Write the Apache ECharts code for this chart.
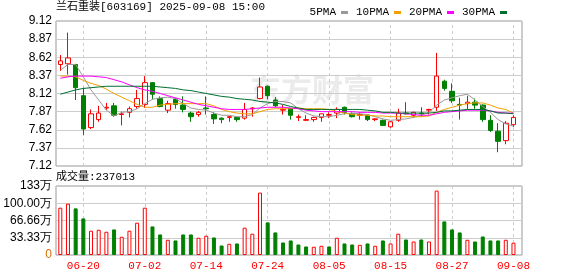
<!DOCTYPE html>
<html><head><meta charset="utf-8">
<script src="https://cdn.jsdelivr.net/npm/echarts@6/dist/echarts.min.js"></script>
<style>html,body{margin:0;padding:0;background:#fff}#c{width:578px;height:276px}</style>
</head><body><div id="c"></div>
<script>
const dates = ['06-17','06-18','06-19','06-20','06-23','06-24','06-25','06-26','06-27','06-30',
'07-01','07-02','07-03','07-04','07-07','07-08','07-09','07-10','07-11','07-14',
'07-15','07-16','07-17','07-18','07-21','07-22','07-23','07-24','07-25','07-28',
'07-29','07-30','07-31','08-01','08-04','08-05','08-06','08-07','08-08','08-11',
'08-12','08-13','08-14','08-15','08-18','08-19','08-20','08-21','08-22','08-25',
'08-26','08-27','08-28','08-29','09-01','09-02','09-03','09-04','09-05','09-08'];
const opens = [8.52,8.53,8.52,8.09,7.65,7.76,7.92,7.95,7.83,7.86,
7.94,7.97,8.27,8.05,7.89,8.04,7.96,7.85,7.83,7.92,
7.83,7.78,7.79,7.79,7.78,7.91,8.05,8.22,8.03,7.89,
7.91,7.79,7.75,7.76,7.79,7.82,7.85,7.93,7.84,7.82,
7.82,7.76,7.75,7.66,7.75,7.85,7.82,7.85,7.89,7.93,
8.29,8.15,7.97,7.98,8.00,7.96,7.75,7.60,7.47,7.69];
const closes = [8.57,8.61,8.20,7.63,7.84,7.85,7.93,7.82,7.84,7.91,
8.05,8.27,8.11,7.94,7.98,7.97,7.90,7.80,7.86,7.91,
7.77,7.76,7.80,7.76,7.90,7.92,8.21,8.09,7.95,7.90,
7.82,7.80,7.76,7.79,7.84,7.83,7.90,7.86,7.80,7.83,
7.76,7.77,7.68,7.73,7.85,7.84,7.86,7.84,7.90,8.36,
8.19,8.02,7.96,8.00,7.96,7.76,7.61,7.46,7.71,7.79];
const lows = [8.43,8.38,8.03,7.55,7.63,7.73,7.89,7.80,7.68,7.79,
7.91,7.92,8.04,7.93,7.85,7.91,7.86,7.73,7.80,7.83,
7.70,7.71,7.73,7.73,7.76,7.80,8.04,8.04,7.93,7.83,
7.76,7.74,7.74,7.73,7.73,7.78,7.78,7.83,7.79,7.76,
7.74,7.74,7.67,7.65,7.73,7.83,7.79,7.80,7.83,7.88,
8.16,7.99,7.76,7.90,7.91,7.73,7.59,7.31,7.42,7.66];
const highs = [8.65,8.96,8.53,8.20,7.90,7.95,7.99,7.99,7.87,7.94,
8.17,8.36,8.27,8.08,8.02,8.06,8.08,7.87,7.88,8.08,
7.86,7.79,7.81,7.80,7.99,7.93,8.34,8.23,8.07,7.96,
7.92,7.83,7.82,7.80,7.84,7.86,7.93,7.94,7.86,7.86,
7.83,7.78,7.76,7.74,7.91,8.00,7.87,7.93,7.91,8.68,
8.31,8.26,8.06,8.09,8.05,7.97,7.82,7.71,7.74,7.82];
const volumes = [914000,992000,901000,707000,469000,488000,449000,494000,352000,469000,
624000,914000,552000,397000,294000,281000,397000,397000,333000,372000,
339000,184000,217000,223000,527000,411000,1205000,630000,436000,242000,
281000,203000,165000,159000,178000,165000,333000,223000,203000,197000,
223000,178000,281000,223000,411000,300000,261000,300000,261000,1244000,
649000,494000,436000,294000,261000,358000,281000,281000,294000,237013];
const ma5 = [8.44,8.52,8.52,8.35,8.17,8.03,7.89,7.81,7.86,7.87,
7.91,7.98,8.04,8.06,8.07,8.05,7.98,7.92,7.90,7.89,
7.85,7.82,7.82,7.80,7.80,7.83,7.92,7.98,8.01,8.01,
7.99,7.91,7.85,7.81,7.80,7.80,7.82,7.84,7.85,7.84,
7.83,7.80,7.77,7.75,7.76,7.77,7.79,7.82,7.86,7.96,
8.03,8.06,8.09,8.11,8.03,7.94,7.86,7.76,7.70,7.67];
const ma10 = [8.36,8.36,8.35,8.30,8.26,8.23,8.18,8.12,8.07,8.02,
7.97,7.93,7.93,7.96,7.97,7.98,7.98,7.98,7.98,7.98,
7.95,7.90,7.87,7.85,7.84,7.84,7.87,7.90,7.91,7.91,
7.91,7.92,7.91,7.91,7.91,7.90,7.87,7.85,7.83,7.82,
7.82,7.81,7.81,7.80,7.80,7.80,7.80,7.80,7.81,7.86,
7.90,7.93,7.96,7.98,7.99,7.99,7.96,7.92,7.90,7.85];
const ma20 = [8.33,8.35,8.36,8.36,8.36,8.35,8.34,8.31,8.28,8.24,
8.20,8.17,8.15,8.12,8.09,8.06,8.03,8.00,7.97,7.95,
7.93,7.91,7.90,7.90,7.90,7.91,7.92,7.93,7.93,7.93,
7.92,7.91,7.89,7.88,7.87,7.87,7.87,7.87,7.87,7.86,
7.86,7.86,7.85,7.85,7.85,7.84,7.83,7.82,7.82,7.84,
7.86,7.87,7.88,7.89,7.89,7.89,7.88,7.86,7.85,7.85];
const ma30 = [8.11,8.14,8.17,8.19,8.20,8.21,8.22,8.22,8.22,8.22,
8.22,8.22,8.22,8.21,8.20,8.19,8.17,8.16,8.14,8.12,
8.10,8.08,8.07,8.05,8.04,8.03,8.01,8.00,7.99,7.97,
7.94,7.92,7.90,7.90,7.90,7.90,7.90,7.90,7.90,7.90,
7.89,7.88,7.86,7.86,7.85,7.85,7.85,7.85,7.85,7.86,
7.88,7.88,7.89,7.90,7.90,7.90,7.88,7.85,7.85,7.84];
const xTickLabels = ['06-20','07-02','07-14','07-24','08-05','08-15','08-27','09-08'];
const volTickLabels = ['0','33.33万','66.66万','100.00万','133万'];
const maNames = ['5PMA','10PMA','20PMA','30PMA'];
const stockTitle = '兰石重装[603169] 2025-09-08 15:00';

const RED = '#ff0000', GREEN = '#008000';
const maColors = ['#999999','#f2a100','#ff00ff','#006f30'];
const xTickIdx = xTickLabels.map(l => dates.indexOf(l));
const XMIN = -0.56, XMAX = 60.11;
const mono = '"Liberation Mono","Noto Sans CJK SC",monospace';
const sans = '"Liberation Sans",Arial,sans-serif';

const candleData = dates.map((d, i) => [i, opens[i], closes[i], lows[i], highs[i]]);
const volData = volumes.map((v, i) => {
  const up = i === 0 ? closes[i] >= opens[i] : closes[i] >= closes[i - 1];
  return {
    value: [i, v],
    itemStyle: up ? {color: '#ffffff', borderColor: RED, borderWidth: 1}
                  : {color: GREEN, borderColor: GREEN, borderWidth: 1}
  };
});
const vLines = xTickIdx.map(i => ({xAxis: i}));
const vLineStyle = {type: [3, 3], color: '#cccccc', width: 1};

const chart = echarts.init(document.getElementById('c'), null, {renderer: 'canvas'});
const maxVol = 1333300;
chart.setOption({
  animation: false,
  backgroundColor: '#fff',
  graphic: [
    {type: 'text', left: 250, top: 74, z: -10, silent: true,
     style: {text: '东方财富', font: 'bold 31px "Noto Sans CJK SC"', fill: '#ebebeb'}},
    {type: 'text', left: 56, top: 2, style: {text: stockTitle, font: '11px ' + mono, fill: '#000'}},
    {type: 'text', left: 56, top: 172, style: {text: '成交量:' + volumes[volumes.length - 1], font: '11px ' + mono, fill: '#000'}}
  ],
  legend: {
    data: maNames, right: 66, top: 2, align: 'right', icon: 'rect',
    itemWidth: 7, itemHeight: 3, itemGap: 8, selectedMode: false,
    textStyle: {fontFamily: mono, fontSize: 11, color: '#000', padding: [0, 0, 0, 0]}
  },
  grid: [
    {left: 56, right: 56, top: 21, height: 145, show: true, borderColor: '#999', borderWidth: 1, backgroundColor: 'transparent'},
    {left: 56, right: 56, top: 186, height: 69, show: true, borderColor: '#999', borderWidth: 1, backgroundColor: 'transparent'}
  ],
  xAxis: [
    {type: 'value', gridIndex: 0, min: XMIN, max: XMAX, axisLine: {show: false}, axisTick: {show: false},
     axisLabel: {show: false}, splitLine: {show: false}},
    {type: 'value', gridIndex: 1, min: XMIN, max: XMAX, axisLine: {show: false}, axisTick: {show: false},
     splitLine: {show: false},
     axisLabel: {customValues: xTickIdx, formatter: v => dates[Math.round(v)] || '', color: RED,
       fontFamily: mono, fontSize: 11, margin: 6}}
  ],
  yAxis: [
    {type: 'value', gridIndex: 0, min: 7.12, max: 9.12, interval: 0.25, axisLine: {show: false}, axisTick: {show: false},
     axisLabel: {formatter: v => v.toFixed(2), color: '#000', fontFamily: sans, fontSize: 12, margin: 4},
     splitLine: {lineStyle: {color: '#cccccc', width: 1}}},
    {type: 'value', gridIndex: 1, min: 0, max: maxVol, interval: maxVol / 4, axisLine: {show: false}, axisTick: {show: false},
     axisLabel: {formatter: (v, idx) => idx === 0 ? '{z|0}' : volTickLabels[idx], color: '#000', fontFamily: sans, fontSize: 12, margin: 4,
       rich: {z: {color: '#d07000', fontFamily: sans, fontSize: 12}}},
     splitLine: {lineStyle: {color: '#cccccc', width: 1}}}
  ],
  series: [
    {type: 'line', name: 'vgrid0', xAxisIndex: 0, yAxisIndex: 0, data: [], z: 0, silent: true,
     markLine: {silent: true, symbol: 'none', label: {show: false}, lineStyle: vLineStyle, data: vLines, animation: false}},
    {type: 'line', name: 'vgrid1', xAxisIndex: 1, yAxisIndex: 1, data: [], z: 0, silent: true,
     markLine: {silent: true, symbol: 'none', label: {show: false}, lineStyle: vLineStyle, data: vLines, animation: false}},
    {type: 'candlestick', name: 'K', xAxisIndex: 0, yAxisIndex: 0, z: 10, barWidth: 5,
     encode: {x: 0, y: [1, 2, 3, 4]}, data: candleData,
     itemStyle: {color: '#ffffff', color0: GREEN, borderColor: RED, borderColor0: GREEN, borderWidth: 1}},
    ...[ma5, ma10, ma20, ma30].map((arr, k) => ({
      type: 'line', name: maNames[k], xAxisIndex: 0, yAxisIndex: 0, z: 12,
      data: arr.map((v, i) => [i, v]), showSymbol: false, symbol: 'none', smooth: false,
      color: maColors[k], lineStyle: {color: maColors[k], width: 1}
    })),
    {type: 'bar', name: 'VOL', xAxisIndex: 1, yAxisIndex: 1, z: 10, barWidth: 4, data: volData}
  ]
});
</script></body></html>
